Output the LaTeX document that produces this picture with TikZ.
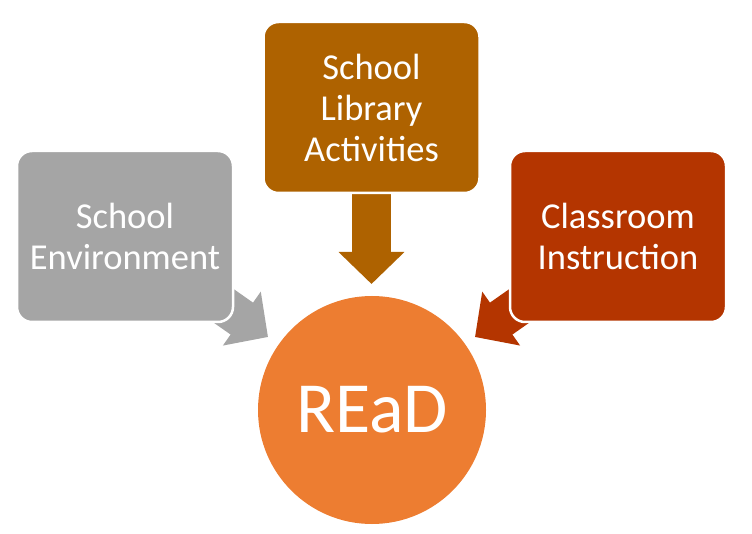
\documentclass[tikz,border=0pt]{standalone}
\usepackage{fontspec}
\setmainfont{Carlito}
\usetikzlibrary{arrows.meta,backgrounds}
\definecolor{grayc}{HTML}{A5A5A5}
\definecolor{libc}{HTML}{AE6200}
\definecolor{clsc}{HTML}{B43500}
\definecolor{orangec}{HTML}{ED7D31}
\begin{document}
\begin{tikzpicture}[x=1pt,y=-1pt,
  box/.style={rounded corners=15pt, draw=white, line width=2.5pt,
    minimum width=216pt, minimum height=171pt, text=white,
    font=\fontsize{36.5}{41}\selectfont, align=center, inner sep=0pt},
  blockarrow/.style={line width=39pt, -{Triangle[length=32pt,width=64pt]}}]
\node[box, fill=grayc] (env) at (125,236.5) {School\\Environment};
\node[box, fill=libc] (lib) at (371.5,107.5) {School\\Library\\Activities};
\node[box, fill=clsc] (cls) at (618,236.5) {Classroom\\Instruction};
\node[circle, fill=orangec, minimum size=228pt, inner sep=0pt, text=white,
  font=\fontsize{72}{80}\selectfont] (read) at (372,410) {REaD};
\coordinate (t1) at (268,337);
\coordinate (t2) at (371.5,284);
\coordinate (t3) at (475,337);
\begin{pgfonlayer}{background}
\fill[white] (0,0) rectangle (752,534);
\draw[blockarrow, grayc] (env.center) -- (t1);
\draw[blockarrow, libc] (lib.center) -- (t2);
\draw[blockarrow, clsc] (cls.center) -- (t3);
\end{pgfonlayer}
\end{tikzpicture}
\end{document}
